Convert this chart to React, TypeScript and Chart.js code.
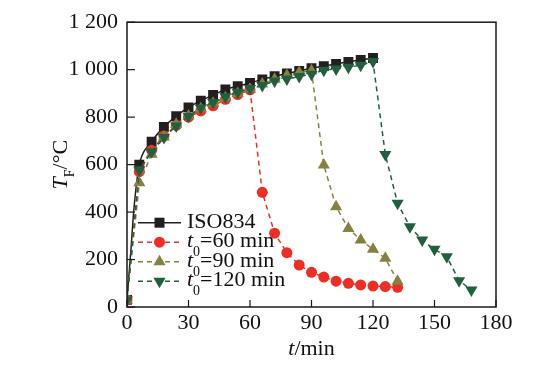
import React, { useEffect, useRef } from "react";
import { Chart, registerables } from "chart.js";

Chart.register(...registerables);

const FONT = '"Liberation Serif", "Times New Roman", serif';

// ---- data ----
const xTickValues = [0, 30, 60, 90, 120, 150, 180];
const yTickValues = [0, 200, 400, 600, 800, 1000, 1200];
const yTickLabels = ["0", "200", "400", "600", "800", "1 000", "1 200"];

const seriesLabels = ["ISO834", "t0=60 min", "t0=90 min", "t0=120 min"];

const isoTime = [0, 1, 2, 3, 4, 5, 6, 12, 18, 24, 30, 36, 42, 48, 54, 60, 66, 72, 78, 84, 90, 96, 102, 108, 114, 120];
const isoTemp = [30, 140, 250, 375, 470, 545, 600, 696, 759, 804, 841, 869, 893, 917, 930, 944, 959, 972, 984, 995, 1006, 1015, 1024, 1033, 1041, 1049];

const t60Time = [0, 6, 12, 18, 24, 30, 36, 42, 48, 54, 60, 66, 72, 78, 84, 90, 96, 102, 108, 114, 120, 126, 132, 135];
const t60Temp = [30, 570, 660, 720, 765, 800, 826, 848, 875, 895, 915, 483, 311, 229, 177, 146, 126, 109, 100, 93, 88, 86, 83, 82];

const t90Time = [0, 6, 12, 18, 24, 30, 36, 42, 48, 54, 60, 66, 72, 78, 84, 90, 96, 102, 108, 114, 120, 126, 132];
const t90Temp = [30, 523, 644, 716, 770, 805, 835, 858, 882, 900, 918, 940, 960, 975, 988, 995, 598, 422, 331, 282, 243, 205, 109];

const t120Time = [0, 6, 12, 18, 24, 30, 36, 42, 48, 54, 60, 66, 72, 78, 84, 90, 96, 102, 108, 114, 120, 126, 132, 138, 144, 150, 156, 162, 168];
const t120Temp = [30, 577, 654, 714, 763, 804, 838, 862, 886, 905, 921, 933, 952, 961, 971, 981, 998, 1003, 1010, 1019, 1034, 643, 437, 338, 282, 243, 212, 111, 72];

// ---- styles ----
const BLACK = "#231f20";
const RED = "#ee2e24";
const OLIVE = "#858140";
const GREEN = "#21603f";

type Part = { t: string; italic?: boolean; sub?: boolean };

function labelParts(s: string, subChar: string): Part[] {
  const m = s.match(/^([A-Za-z])(\w)(.*)$/);
  if (s.startsWith("t0")) {
    return [{ t: "t", italic: true }, { t: "0", sub: true }, { t: s.slice(2) }];
  }
  return [{ t: s }];
}

const MAIN = 22;
const SUB = 14;

function fontFor(p: Part) {
  return `${p.italic ? "italic " : ""}${p.sub ? SUB : MAIN}px ${FONT}`;
}

function drawParts(ctx: CanvasRenderingContext2D, parts: Part[], x: number, y: number, center: boolean, subDrop: number) {
  ctx.textBaseline = "alphabetic";
  ctx.textAlign = "left";
  let total = 0;
  const widths = parts.map((p) => {
    ctx.font = fontFor(p);
    const w = ctx.measureText(p.t).width;
    total += w;
    return w;
  });
  let cx = center ? x - total / 2 : x;
  parts.forEach((p, i) => {
    ctx.font = fontFor(p);
    ctx.fillText(p.t, cx, p.sub ? y + subDrop : y);
    cx += widths[i];
  });
}

function drawMarker(ctx: CanvasRenderingContext2D, style: string, x: number, y: number, color: string) {
  ctx.save();
  ctx.fillStyle = color;
  ctx.beginPath();
  if (style === "rect") {
    ctx.rect(x - 5, y - 5, 10, 10);
  } else if (style === "circle") {
    ctx.arc(x, y, 5.5, 0, Math.PI * 2);
  } else if (style === "up") {
    ctx.moveTo(x, y - 7);
    ctx.lineTo(x + 6.1, y + 3.5);
    ctx.lineTo(x - 6.1, y + 3.5);
    ctx.closePath();
  } else {
    ctx.moveTo(x, y + 7);
    ctx.lineTo(x + 6.1, y - 3.5);
    ctx.lineTo(x - 6.1, y - 3.5);
    ctx.closePath();
  }
  ctx.fill();
  ctx.restore();
}

const legendStyles = [
  { color: BLACK, dash: [] as number[], marker: "rect" },
  { color: RED, dash: [5, 4], marker: "circle" },
  { color: OLIVE, dash: [5, 4], marker: "up" },
  { color: GREEN, dash: [5, 4], marker: "down" },
];

const decorPlugin = {
  id: "decor",
  afterDraw(chart: any) {
    const ctx: CanvasRenderingContext2D = chart.ctx;
    const { left, right, top, bottom } = chart.chartArea;
    const xs = chart.scales.x;
    const ys = chart.scales.y;
    ctx.save();
    // frame
    ctx.strokeStyle = "#1a1a1a";
    ctx.lineWidth = 1.5;
    ctx.setLineDash([]);
    ctx.strokeRect(left, top, right - left, bottom - top);
    // inward ticks
    ctx.lineWidth = 1.2;
    xTickValues.forEach((v) => {
      const px = xs.getPixelForValue(v);
      ctx.beginPath();
      ctx.moveTo(px, bottom);
      ctx.lineTo(px, bottom - 7);
      ctx.stroke();
    });
    yTickValues.forEach((v) => {
      const py = ys.getPixelForValue(v);
      ctx.beginPath();
      ctx.moveTo(left, py);
      ctx.lineTo(left + 8, py);
      ctx.stroke();
    });
    // legend
    const lx1 = 138, lx2 = 181, mx = 159.5, tx = 187;
    const rowY0 = 222.7, rowStep = 19.5;
    seriesLabels.forEach((lab, i) => {
      const st = legendStyles[i];
      const y = rowY0 + i * rowStep;
      ctx.strokeStyle = st.color;
      ctx.lineWidth = 1.5;
      ctx.setLineDash(st.dash);
      ctx.beginPath();
      ctx.moveTo(lx1, y);
      ctx.lineTo(lx2, y);
      ctx.stroke();
      ctx.setLineDash([]);
      drawMarker(ctx, st.marker, mx, y, st.color);
      ctx.fillStyle = "#111";
      drawParts(ctx, labelParts(lab, "0"), tx, y + 5, false, 9);
    });
    // x title
    ctx.fillStyle = "#111";
    drawParts(ctx, [{ t: "t", italic: true }, { t: "/min" }], (left + right) / 2, 355, true, 0);
    // y title
    ctx.save();
    ctx.translate(67, (top + bottom) / 2);
    ctx.rotate(-Math.PI / 2);
    drawParts(ctx, [{ t: "T", italic: true }, { t: "F", sub: true }, { t: "/°C" }], 0, 0, true, 7);
    ctx.restore();
    ctx.restore();
  },
};

function pts(t: number[], v: number[]) {
  return t.map((x, i) => ({ x, y: v[i] }));
}

export default function App() {
  const ref = useRef<HTMLCanvasElement>(null);
  useEffect(() => {
    const canvas = ref.current!;
    const tickFont = { family: FONT, size: 22 };
    const chart = new Chart(canvas, {
      type: "line",
      data: {
        datasets: [
          {
            label: seriesLabels[0],
            data: pts(isoTime, isoTemp),
            borderColor: BLACK,
            backgroundColor: BLACK,
            borderWidth: 1.5,
            pointStyle: "rect",
            pointRadius: (c: any) => (isoTime[c.dataIndex] % 6 === 0 ? 7 : 0),
            pointBorderWidth: 0,
            cubicInterpolationMode: "monotone",
            order: 3,
          },
          {
            label: seriesLabels[1],
            data: pts(t60Time, t60Temp),
            borderColor: RED,
            backgroundColor: RED,
            borderWidth: 1.5,
            borderDash: [5, 4],
            pointStyle: "circle",
            pointRadius: (c: any) => (t60Time[c.dataIndex] % 6 === 0 ? 5.5 : 0),
            pointBorderWidth: 0,
            order: 2,
          },
          {
            label: seriesLabels[2],
            data: pts(t90Time, t90Temp),
            borderColor: OLIVE,
            backgroundColor: OLIVE,
            borderWidth: 1.5,
            borderDash: [5, 4],
            pointStyle: "triangle",
            pointRadius: 7,
            pointBorderWidth: 0,
            order: 1,
          },
          {
            label: seriesLabels[3],
            data: pts(t120Time, t120Temp),
            borderColor: GREEN,
            backgroundColor: GREEN,
            borderWidth: 1.5,
            borderDash: [5, 4],
            pointStyle: "triangle",
            pointRotation: 180,
            pointRadius: 7,
            pointBorderWidth: 0,
            order: 0,
          },
        ] as any,
      },
      options: {
        responsive: false,
        devicePixelRatio: 1,
        animation: false,
        layout: { padding: { top: 22, right: 54, left: 0, bottom: 0 } },
        plugins: { legend: { display: false }, tooltip: { enabled: false } },
        scales: {
          x: {
            type: "linear",
            min: 0,
            max: 180,
            afterBuildTicks: (s: any) => {
              s.ticks = xTickValues.map((v) => ({ value: v }));
            },
            ticks: { color: "#111", font: tickFont, padding: 3, maxRotation: 0, autoSkip: false },
            grid: { drawOnChartArea: false, drawTicks: false },
            border: { display: false },
            afterFit: (s: any) => {
              s.height = 65;
            },
          },
          y: {
            type: "linear",
            min: 0,
            max: 1200,
            afterBuildTicks: (s: any) => {
              s.ticks = yTickValues.map((v) => ({ value: v }));
            },
            ticks: {
              color: "#111",
              font: tickFont,
              padding: 9,
              autoSkip: false,
              callback: (_v: any, i: number) => yTickLabels[i],
            },
            grid: { drawOnChartArea: false, drawTicks: false },
            border: { display: false },
            afterFit: (s: any) => {
              s.width = 127;
            },
          },
        },
      } as any,
      plugins: [decorPlugin],
    });
    return () => chart.destroy();
  }, []);
  return (
    <div style={{ position: "absolute", left: 0, top: 0, width: 550, height: 372, background: "#fff" }}>
      <canvas ref={ref} width={550} height={372} style={{ display: "block" }} />
    </div>
  );
}
